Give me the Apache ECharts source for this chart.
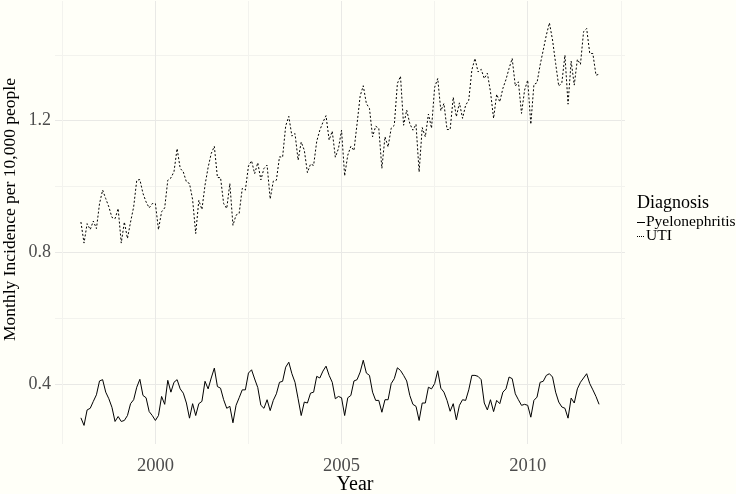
<!DOCTYPE html>
<html>
<head>
<meta charset="utf-8">
<script src="https://cdn.jsdelivr.net/npm/echarts@6/dist/echarts.min.js"></script>
<style>
html,body{margin:0;padding:0;background:#fffff8;}
#chart{width:736px;height:494px;}
</style>
</head>
<body>
<div id="chart"></div>
<script>
// Monthly data, Jan 1998 .. Dec 2011
const startYear = 1998;
const seriesNames = ['Pyelonephritis', 'UTI'];
const legendTitle = 'Diagnosis';
const pyelonephritis = [
  0.297,0.274,0.321,0.326,0.347,0.367,0.409,0.413,0.375,0.355,0.329,0.286,
  0.301,0.286,0.289,0.304,0.340,0.352,0.390,0.414,0.365,0.358,0.316,0.304,
  0.289,0.304,0.362,0.338,0.411,0.375,0.405,0.413,0.385,0.372,0.342,0.296,
  0.340,0.304,0.340,0.347,0.408,0.385,0.418,0.448,0.392,0.387,0.352,0.326,
  0.332,0.282,0.335,0.358,0.382,0.382,0.433,0.443,0.415,0.389,0.335,0.326,
  0.352,0.319,0.350,0.370,0.405,0.408,0.451,0.466,0.431,0.405,0.355,0.304,
  0.345,0.342,0.372,0.375,0.423,0.418,0.439,0.454,0.426,0.405,0.355,0.362,
  0.358,0.304,0.358,0.365,0.409,0.413,0.436,0.472,0.433,0.426,0.375,0.350,
  0.350,0.314,0.352,0.352,0.401,0.416,0.449,0.441,0.426,0.409,0.365,0.338,
  0.332,0.289,0.342,0.342,0.390,0.385,0.401,0.440,0.387,0.375,0.350,0.317,
  0.340,0.291,0.335,0.352,0.350,0.382,0.426,0.426,0.423,0.413,0.342,0.321,
  0.352,0.316,0.350,0.340,0.375,0.385,0.421,0.416,0.370,0.352,0.335,0.338,
  0.335,0.299,0.350,0.360,0.405,0.408,0.426,0.431,0.421,0.375,0.345,0.330,
  0.326,0.296,0.357,0.342,0.385,0.405,0.418,0.431,0.401,0.382,0.362,0.338
];
const uti = [
  0.892,0.828,0.887,0.869,0.895,0.872,0.948,0.989,0.963,0.938,0.906,0.902,
  0.933,0.828,0.892,0.842,0.892,0.938,1.019,1.021,0.979,0.953,0.935,0.948,
  0.948,0.869,0.923,0.935,1.019,1.026,1.045,1.115,1.055,1.044,1.014,1.009,
  0.960,0.857,0.958,0.930,1.004,1.058,1.100,1.122,1.027,1.027,0.948,0.933,
  1.009,0.882,0.913,0.918,0.994,0.989,1.062,1.078,1.039,1.072,1.020,1.055,
  1.065,0.962,1.016,1.019,1.090,1.089,1.184,1.213,1.153,1.161,1.080,1.135,
  1.110,1.042,1.068,1.064,1.137,1.171,1.195,1.215,1.141,1.168,1.089,1.115,
  1.171,1.032,1.095,1.122,1.109,1.190,1.275,1.306,1.252,1.237,1.151,1.183,
  1.177,1.055,1.151,1.120,1.177,1.186,1.313,1.335,1.186,1.232,1.191,1.171,
  1.189,1.044,1.179,1.151,1.220,1.177,1.301,1.328,1.230,1.252,1.173,1.173,
  1.271,1.212,1.254,1.207,1.247,1.262,1.354,1.389,1.348,1.356,1.328,1.344,
  1.288,1.207,1.280,1.257,1.298,1.325,1.359,1.389,1.305,1.318,1.222,1.293,
  1.323,1.189,1.310,1.315,1.369,1.414,1.460,1.497,1.445,1.374,1.305,1.315,
  1.399,1.250,1.381,1.308,1.386,1.371,1.470,1.480,1.404,1.404,1.338,1.341
];
const xMajorTicks = [2000, 2005, 2010];
const xMinorTicks = [1997.5, 2002.5, 2007.5, 2012.5];
const yMajorTicks = [0.4, 0.8, 1.2];
const yMinorTicks = [0.6, 1.0, 1.4];

const toPairs = arr => arr.map((v, i) => [startYear + i / 12, v]);

const FONT = '"Liberation Serif", "DejaVu Serif", serif';
const xMin = 1997.304, xMax = 2012.613;
const yMin = 0.2175, yMax = 1.5635;
const UTI_DASH = [2, 2];

const chart = echarts.init(document.getElementById('chart'), null, {renderer: 'canvas'});
chart.setOption({
  backgroundColor: '#fffff8',
  animation: false,
  textStyle: {fontFamily: FONT},
  grid: {left: 55, right: 111, top: 1, bottom: 50, outerBoundsMode: 'none', containLabel: false},
  xAxis: [
    {
      type: 'value', min: xMin, max: xMax,
      name: 'Year', nameLocation: 'middle', nameGap: 31, nameMoveOverlap: false,
      nameTextStyle: {fontFamily: FONT, fontSize: 20, color: '#000', padding: [0, 0, 0, 30]},
      axisLine: {show: false},
      axisTick: {show: false, customValues: xMajorTicks},
      axisLabel: {customValues: xMajorTicks, margin: 13, fontFamily: FONT, fontSize: 18.5, color: '#4d4d4d',
        formatter: v => String(Math.round(v))},
      splitLine: {show: true, lineStyle: {color: '#e9e9e6', width: 1}}
    },
    {
      type: 'value', min: xMin, max: xMax, position: 'bottom',
      axisLine: {show: false},
      axisTick: {show: false, customValues: xMinorTicks},
      axisLabel: {show: false, customValues: xMinorTicks},
      splitLine: {show: true, lineStyle: {color: '#f3f3ee', width: 1}}
    }
  ],
  yAxis: [
    {
      type: 'value', min: yMin, max: yMax,
      name: 'Monthly Incidence per 10,000 people', nameLocation: 'middle', nameGap: 36, nameMoveOverlap: false,
      nameTextStyle: {fontFamily: FONT, fontSize: 17.5, color: '#000', padding: [0, 0, 0, 26]},
      axisLine: {show: false},
      axisTick: {show: false, customValues: yMajorTicks},
      axisLabel: {customValues: yMajorTicks, margin: 4, fontFamily: FONT, fontSize: 18, color: '#4d4d4d',
        formatter: v => v.toFixed(1)},
      splitLine: {show: true, lineStyle: {color: '#e9e9e6', width: 1}}
    },
    {
      type: 'value', min: yMin, max: yMax, position: 'left',
      axisLine: {show: false},
      axisTick: {show: false, customValues: yMinorTicks},
      axisLabel: {show: false, customValues: yMinorTicks},
      splitLine: {show: true, lineStyle: {color: '#f3f3ee', width: 1}}
    }
  ],
  graphic: [
    {type: 'text', x: 637, y: 203, style: {text: legendTitle, font: '18px ' + FONT, fill: '#000', verticalAlign: 'middle'}},
    {type: 'line', shape: {x1: 637, y1: 222.5, x2: 645, y2: 222.5}, style: {stroke: '#000', lineWidth: 1}},
    {type: 'text', x: 646, y: 222, style: {text: seriesNames[0], font: '15.5px ' + FONT, fill: '#000', verticalAlign: 'middle'}},
    {type: 'line', shape: {x1: 637, y1: 236.5, x2: 645, y2: 236.5}, style: {stroke: '#000', lineWidth: 1, lineDash: [1, 1]}},
    {type: 'text', x: 646, y: 236, style: {text: seriesNames[1], font: '15.5px ' + FONT, fill: '#000', verticalAlign: 'middle'}}
  ],
  series: [
    {
      name: seriesNames[0], type: 'line', xAxisIndex: 0, yAxisIndex: 0,
      data: toPairs(pyelonephritis), symbol: 'none', showSymbol: false,
      lineStyle: {color: '#000', width: 1}, itemStyle: {color: '#000'}
    },
    {
      name: seriesNames[1], type: 'line', xAxisIndex: 0, yAxisIndex: 0,
      data: toPairs(uti), symbol: 'none', showSymbol: false,
      lineStyle: {color: '#000', width: 1, type: UTI_DASH}, itemStyle: {color: '#000'}
    }
  ]
});
</script>
</body>
</html>
